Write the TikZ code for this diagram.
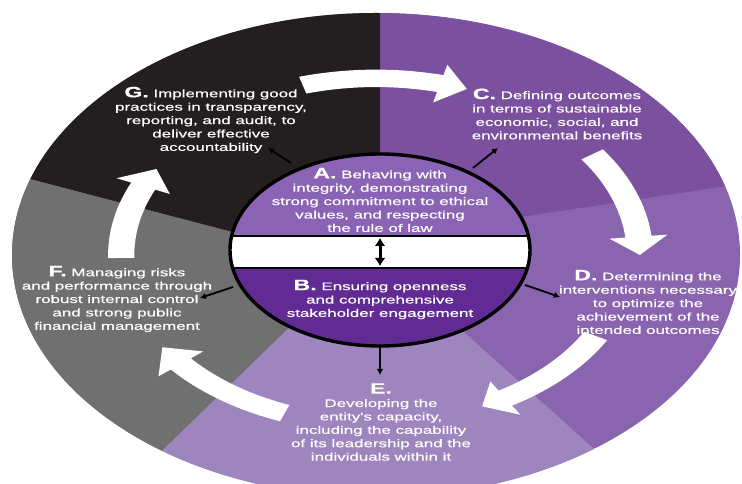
\documentclass[tikz,border=0pt]{standalone}
\usepackage{fontspec}
\newfontfamily\wfont{Liberation Sans}[FakeStretch=1.54,FakeBold=0.5]
\usetikzlibrary{arrows.meta}
\definecolor{cC}{RGB}{123,80,158}
\definecolor{cD}{RGB}{138,100,174}
\definecolor{cE}{RGB}{158,133,190}
\definecolor{cF}{RGB}{112,112,112}
\definecolor{cG}{RGB}{35,31,32}
\definecolor{cA}{RGB}{139,99,180}
\definecolor{cB}{RGB}{97,43,147}
\newcommand{\hd}[1]{{\fontsize{15}{13.4}\selectfont\bfseries #1}}
\def\aw{0.036}
\def\ah{0.08}
\newcommand{\wArrow}[4]{%
  \fill[white] (#1:{#4+\aw}) arc[start angle=#1, end angle=#2, radius={#4+\aw}]
    -- (#2:{#4+\ah}) -- (#3:#4) -- (#2:{#4-\ah}) -- (#2:{#4-\aw})
    arc[start angle=#2, end angle=#1, radius={#4-\aw}] -- cycle;}
\tikzset{
  txt/.style={text=white, align=center, inner sep=0pt, font=\wfont\fontsize{11}{13.4}\selectfont},
  blk/.style={draw=black, line width=1.8pt, -{Latex[length=6pt,width=6.5pt]}},
  dbl/.style={draw=black, line width=3pt, {Latex[length=8pt,width=11pt]}-{Latex[length=8pt,width=11pt]}},
}
\begin{document}
\begin{tikzpicture}[x=1pt,y=1pt]
\useasboundingbox (0,0) rectangle (742,484);
\begin{scope}
  \clip (0,0) rectangle (742,484);
  \clip (376,229) ellipse [x radius=364, y radius=242];
  \fill[cD] (0,-40) rectangle (760,520);
  \fill[cC] (380,234) -- (380,520) -- (760,520) -- (760,303) -- (500,264) -- cycle;
  \fill[cG] (380,234) -- (380,520) -- (-20,520) -- (-20,318) -- (232,252) -- cycle;
  \fill[cF] (232,252) -- (-20,318) -- (-20,-30) -- (96.6,-30) -- (325,191) -- cycle;
  \fill[cE] (325,191) -- (96.6,-30) -- (666.5,-30) -- (437,176) -- cycle;
  \begin{scope}[shift={(376,229)}, xscale=364, yscale=242]
    \wArrow{106}{76}{70}{0.73}
    \wArrow{35}{6}{0}{0.725}
    \wArrow{-29}{-59}{-65}{0.69}
    \wArrow{-111}{-140}{-147}{0.70}
    \wArrow{181}{156}{149.5}{0.70}
  \end{scope}
\end{scope}
% inner ellipse
\begin{scope}
  \clip (380,234) ellipse [x radius=150, y radius=96];
  \fill[cA] (220,248) rectangle (540,340);
  \fill[white] (220,216) rectangle (540,248);
  \fill[cB] (220,120) rectangle (540,216);
  \draw[line width=2.2pt] (220,248) -- (540,248);
  \draw[line width=2.2pt] (220,216) -- (540,216);
\end{scope}
\draw[line width=3.4pt] (380,234) ellipse [x radius=150, y radius=96];
% connectors
\coordinate (sG) at (291,321); \coordinate (eG) at (268,336);
\coordinate (sC) at (473,316); \coordinate (eC) at (498,336);
\coordinate (sF) at (233,197); \coordinate (eF) at (200,186);
\coordinate (sD) at (525,199); \coordinate (eD) at (560,187);
\coordinate (sE) at (380,139); \coordinate (eE) at (380,109);
\coordinate (dT) at (380,246); \coordinate (dB) at (380,218);
\draw[blk] (sG) -- (eG);
\draw[blk] (sC) -- (eC);
\draw[blk] (sF) -- (eF);
\draw[blk] (sD) -- (eD);
\draw[blk] (sE) -- (eE);
\draw[dbl] (dT) -- (dB);
% texts
\node[txt] (tG) at (211,364) {\hd{G.} Implementing good\\practices in transparency,\\reporting, and audit, to\\deliver effective\\accountability};
\node[txt] (tC) at (557,370) {\hd{C.} Defining outcomes\\in terms of sustainable\\economic, social, and\\environmental benefits};
\node[txt] (tA) at (380,284) {\hd{A.} Behaving with\\integrity, demonstrating\\strong commitment to ethical\\values, and respecting\\the rule of law};
\node[txt] (tB) at (380,184.5) {\hd{B.} Ensuring openness\\and comprehensive\\stakeholder engagement};
\node[txt] (tF) at (117,185) {\hd{F.} Managing risks\\and performance through\\robust internal control\\and strong public\\financial management};
\node[txt] (tD) at (648,182) {\hd{D.} Determining the\\interventions necessary\\to optimize the\\achievement of the\\intended outcomes};
\node[txt] (tE) at (381,62) {\hd{E.}\\Developing the\\entity's capacity,\\including the capability\\of its leadership and the\\individuals within it};
\end{tikzpicture}
\end{document}
